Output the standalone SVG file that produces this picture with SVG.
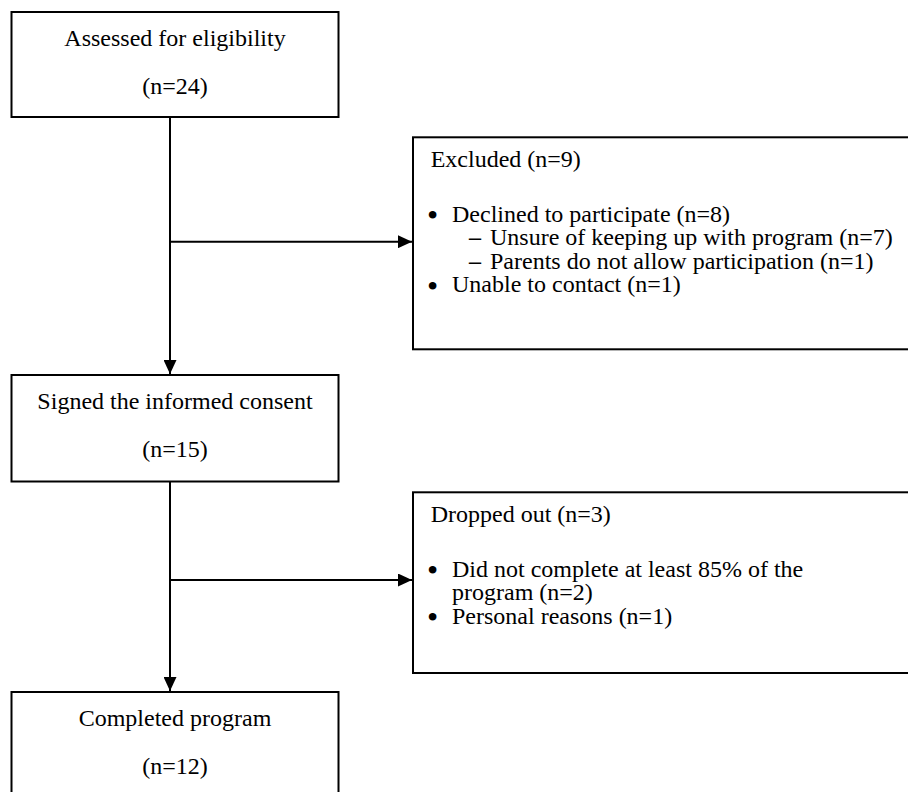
<svg xmlns="http://www.w3.org/2000/svg" width="908" height="792" viewBox="0 0 908 792">
<style>
.box{fill:#fff;stroke:#000;stroke-width:2}
.t{font-family:"Liberation Serif","Times New Roman",serif;font-size:24px;fill:#000}
.b{font-family:"Liberation Serif","Times New Roman",serif;font-size:32px;fill:#000}
.c{text-anchor:middle}
.ln{stroke:#000;stroke-width:2;fill:none}
</style>
<defs>
<marker id="ah" markerWidth="14" markerHeight="13" refX="14" refY="6.5" orient="auto" markerUnits="userSpaceOnUse">
<path d="M0,0 L14,6.5 L0,13 Z" fill="#000"/>
</marker>
</defs>
<rect width="908" height="792" fill="#fff"/>
<g id="connectors">
<path class="ln" d="M170,117 V374" marker-end="url(#ah)"/>
<path class="ln" d="M170,241.7 H412" marker-end="url(#ah)"/>
<path class="ln" d="M170,481.5 V691" marker-end="url(#ah)"/>
<path class="ln" d="M170,580 H412" marker-end="url(#ah)"/>
</g>
<g id="assessed">
<rect class="box" x="11.5" y="12" width="327" height="105"/>
<text class="t c" x="175" y="45.5">Assessed for eligibility</text>
<text class="t c" x="175" y="94">(n=24)</text>
</g>
<g id="excluded">
<rect class="box" x="413" y="137.3" width="510" height="212"/>
<text class="t" x="430.7" y="167">Excluded (n=9)</text>
<text class="b" x="427" y="226">•</text>
<text class="t" x="452" y="221.5">Declined to participate (n=8)</text>
<text class="t" x="469" y="245" style="font-weight:bold">–</text>
<text class="t" x="490" y="245">Unsure of keeping up with program (n=7)</text>
<text class="t" x="469" y="268.5" style="font-weight:bold">–</text>
<text class="t" x="490" y="268.5">Parents do not allow participation (n=1)</text>
<text class="b" x="427" y="296.5">•</text>
<text class="t" x="452" y="292">Unable to contact (n=1)</text>
</g>
<g id="signed">
<rect class="box" x="11.5" y="375" width="327" height="106.5"/>
<text class="t c" x="175" y="408.5">Signed the informed consent</text>
<text class="t c" x="175" y="457">(n=15)</text>
</g>
<g id="dropped">
<rect class="box" x="413" y="492.3" width="510" height="180.7"/>
<text class="t" x="430.7" y="521.7">Dropped out (n=3)</text>
<text class="b" x="427" y="581.2">•</text>
<text class="t" x="452" y="576.7">Did not complete at least 85% of the</text>
<text class="t" x="452" y="600.2">program (n=2)</text>
<text class="b" x="427" y="628.2">•</text>
<text class="t" x="452" y="623.7">Personal reasons (n=1)</text>
</g>
<g id="completed">
<rect class="box" x="11.5" y="692" width="327" height="110"/>
<text class="t c" x="175" y="725.5">Completed program</text>
<text class="t c" x="175" y="774">(n=12)</text>
</g>
</svg>
